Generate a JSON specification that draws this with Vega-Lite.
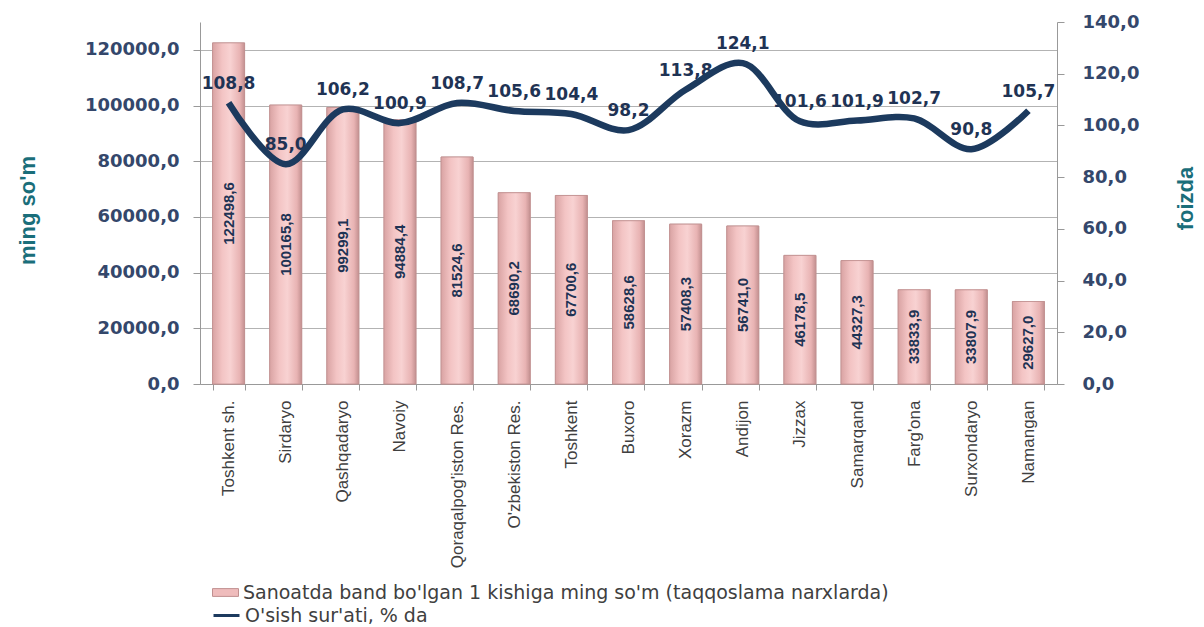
{
  "$schema": "https://vega.github.io/schema/vega-lite/v6.json",
  "width": 857,
  "height": 362,
  "autosize": "none",
  "padding": {"left": 200, "top": 22, "right": 147, "bottom": 243},
  "background": "white",
  "config": {
    "locale": {"number": {"decimal": ",", "thousands": " ", "grouping": [3], "currency": ["", ""]}},
    "view": {"stroke": null}
  },
  "data": {
    "values": [
      {"region": "Toshkent sh.", "value": 122498.6, "rate": 108.8},
      {"region": "Sirdaryo", "value": 100165.8, "rate": 85.0},
      {"region": "Qashqadaryo", "value": 99299.1, "rate": 106.2},
      {"region": "Navoiy", "value": 94884.4, "rate": 100.9},
      {"region": "Qoraqalpog'iston Res.", "value": 81524.6, "rate": 108.7},
      {"region": "O'zbekiston Res.", "value": 68690.2, "rate": 105.6},
      {"region": "Toshkent", "value": 67700.6, "rate": 104.4},
      {"region": "Buxoro", "value": 58628.6, "rate": 98.2},
      {"region": "Xorazm", "value": 57408.3, "rate": 113.8},
      {"region": "Andijon", "value": 56741.0, "rate": 124.1},
      {"region": "Jizzax", "value": 46178.5, "rate": 101.6},
      {"region": "Samarqand", "value": 44327.3, "rate": 101.9},
      {"region": "Farg'ona", "value": 33833.9, "rate": 102.7},
      {"region": "Surxondaryo", "value": 33807.9, "rate": 90.8},
      {"region": "Namangan", "value": 29627.0, "rate": 105.7}
    ]
  },
  "encoding": {
    "x": {
      "field": "region", "type": "nominal", "sort": null,
      "scale": {"paddingInner": 0.44, "paddingOuter": 0.22},
      "axis": {
        "title": null, "labelAngle": -90, "labelFont": "Liberation Sans", "labelFontSize": 17,
        "labelColor": "#404040", "labelPadding": 10, "tickBand": "extent", "tickSize": 6,
        "tickColor": "#999999", "domainColor": "#999999", "grid": false, "labelLimit": 300
      }
    }
  },
  "layer": [
    {
      "encoding": {
        "y": {
          "field": "value", "type": "quantitative",
          "scale": {"domain": [0, 130000], "nice": false},
          "axis": {
            "orient": "left", "values": [0, 20000, 40000, 60000, 80000, 100000, 120000], "format": ".1f",
            "grid": true, "gridColor": "#b3b3b3", "domainColor": "#999999", "tickColor": "#999999",
            "tickSize": 7, "labelPadding": 14, "labelFont": "DejaVu Sans", "labelFontWeight": "bold",
            "labelFontSize": 18, "labelColor": "#34476b",
            "title": "ming so'm", "titleFont": "Liberation Sans", "titleFontSize": 22, "titleFontWeight": "bold",
            "titleColor": "#1a6e7a", "titleAngle": -90, "titleX": -173, "titleY": 188,
            "titleAlign": "center", "titleBaseline": "middle"
          }
        }
      },
      "layer": [
        {
          "mark": {"type": "bar", "stroke": "#c09090", "strokeWidth": 0.8},
          "encoding": {
            "fill": {
              "datum": "Sanoatda band bo'lgan 1 kishiga ming so'm (taqqoslama narxlarda)", "type": "nominal",
              "scale": {"range": ["#efbcbc"]},
              "legend": {
                "title": null, "orient": "none", "legendX": 12, "legendY": 557,
                "symbolType": "M-1,-0.3H1V0.3H-1Z", "symbolSize": 676, "symbolStrokeColor": "#c09090",
                "symbolStrokeWidth": 1, "labelFont": "DejaVu Sans", "labelFontSize": 19,
                "labelColor": "#404040", "labelLimit": 1000, "labelOffset": 4
              }
            }
          }
        },
        {
          "mark": {
            "type": "bar", "stroke": "#c09090", "strokeWidth": 0.8,
            "fill": {
              "gradient": "linear", "x1": 0, "x2": 1, "y1": 0, "y2": 0,
              "stops": [
                {"offset": 0, "color": "#d9a3a3"},
                {"offset": 0.3, "color": "#f3c4c4"},
                {"offset": 0.55, "color": "#f8d2d2"},
                {"offset": 0.85, "color": "#e8b3b3"},
                {"offset": 1, "color": "#c39090"}
              ]
            }
          }
        }
      ]
    },
    {
      "mark": {
        "type": "text", "angle": 270, "font": "Liberation Sans", "fontWeight": "bold",
        "fontSize": 15, "color": "#1f3354", "align": "center", "baseline": "middle"
      },
      "encoding": {
        "y": {"field": "value", "type": "quantitative", "scale": {"domain": [0, 260000], "nice": false}, "axis": null},
        "text": {"field": "value", "type": "quantitative", "format": ".1f"}
      }
    },
    {
      "encoding": {
        "y": {
          "field": "rate", "type": "quantitative",
          "scale": {"domain": [0, 140], "nice": false},
          "axis": {
            "orient": "right", "values": [0, 20, 40, 60, 80, 100, 120, 140], "format": ".1f",
            "grid": false, "domainColor": "#999999", "tickColor": "#999999", "tickSize": 7,
            "labelPadding": 18, "labelFont": "DejaVu Sans", "labelFontWeight": "bold",
            "labelFontSize": 18, "labelColor": "#34476b",
            "title": "foizda", "titleFont": "Liberation Sans", "titleFontSize": 22, "titleFontWeight": "bold",
            "titleColor": "#1a6e7a", "titleAngle": -90, "titleX": 128, "titleY": 176,
            "titleAlign": "center", "titleBaseline": "middle"
          }
        }
      },
      "layer": [
        {
          "mark": {
            "type": "text", "dy": -19, "font": "DejaVu Sans", "fontWeight": "bold",
            "fontSize": 17, "color": "#1f3354"
          },
          "encoding": {"text": {"field": "rate", "type": "quantitative", "format": ".1f"}}
        },
        {
          "mark": {"type": "line", "interpolate": "catmull-rom", "strokeWidth": 6.5},
          "encoding": {
            "stroke": {
              "datum": "O'sish sur'ati, % da", "type": "nominal",
              "scale": {"range": ["#1c3a5e"]},
              "legend": {
                "title": null, "orient": "none", "legendX": 12, "legendY": 579,
                "symbolType": "stroke", "symbolSize": 676, "symbolStrokeWidth": 3,
                "labelFont": "DejaVu Sans", "labelFontSize": 19,
                "labelColor": "#404040", "labelLimit": 1000, "labelOffset": 4
              }
            }
          }
        }
      ]
    }
  ],
  "resolve": {"scale": {"y": "independent"}}
}
